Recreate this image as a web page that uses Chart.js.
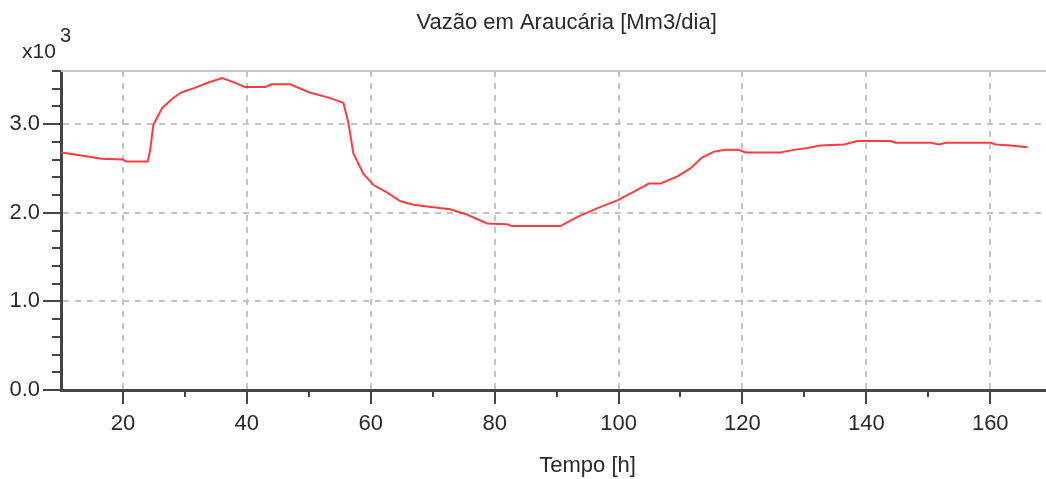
<!DOCTYPE html>
<html>
<head>
<meta charset="utf-8">
<script src="https://cdn.jsdelivr.net/npm/chart.js@4.4.2/dist/chart.umd.min.js"></script>
<style>
  html, body { margin: 0; padding: 0; background: #fff; }
  canvas { display: block; }
</style>
</head>
<body>
<canvas id="chart-vazao" width="1046" height="479"></canvas>
<script>
const chartTitle = 'Vazão em Araucária [Mm3/dia]';
const xTitle = 'Tempo [h]';
const yMultiplier = ['x10', '3'];

// tempo [h]
const tempo = [10, 12, 16.5, 20, 20.5, 24, 24.4, 24.9, 26.3, 28, 29.5, 31.6, 33.8, 36, 37.6, 39.7,
  43, 44, 47, 50, 53.2, 55.6, 56.4, 57.2, 58.8, 60.5, 62.6, 64.8, 66.9, 69.1, 72.8, 75.5,
  78.8, 82, 82.8, 90.6, 93.3, 96.5, 99.8, 102.5, 104.9, 106.8, 109.5, 111.6, 113.4, 115.4,
  117.3, 119.4, 120.5, 126.1, 128.3, 130.5, 132.6, 136.4, 138.5, 143.9, 144.7, 150.4, 151.7,
  152.8, 160.1, 160.9, 163.3, 166];

// vazão [x10^3 Mm3/dia]
const vazao = [2.68, 2.66, 2.61, 2.60, 2.58, 2.58, 2.71, 2.99, 3.18, 3.29, 3.36, 3.41, 3.47, 3.52, 3.48, 3.42,
  3.42, 3.45, 3.45, 3.36, 3.30, 3.24, 3.01, 2.67, 2.44, 2.31, 2.23, 2.13, 2.09, 2.07, 2.04, 1.98,
  1.88, 1.87, 1.85, 1.85, 1.95, 2.05, 2.14, 2.24, 2.33, 2.33, 2.41, 2.50, 2.62, 2.69,
  2.71, 2.71, 2.68, 2.68, 2.71, 2.73, 2.76, 2.77, 2.81, 2.81, 2.79, 2.79, 2.77,
  2.79, 2.79, 2.77, 2.76, 2.74];

const xMajor = [20, 40, 60, 80, 100, 120, 140, 160];
const xMinor = [30, 50, 70, 90, 110, 130, 150];
const yMajor = [0, 1, 2, 3];
const yMinor = [0.2, 0.4, 0.6, 0.8, 1.2, 1.4, 1.6, 1.8, 2.2, 2.4, 2.6, 2.8, 3.2, 3.4, 3.6];
// the original plot ran on to 180 h, past the right edge of the picture
const xFullEnd = 180;

const FONT = 'Liberation Sans, Arial, sans-serif';
const AXIS = '#454545';
const TEXT = '#2a2a2a';
const GRID = '#c4c4c4';

const extras = {
  id: 'extras',
  afterDraw(chart) {
    const ctx = chart.ctx;
    const area = chart.chartArea;
    const xs = chart.scales.x, ys = chart.scales.y;
    const fullRight = xs.getPixelForValue(xFullEnd);
    ctx.save();
    // top border
    ctx.strokeStyle = GRID;
    ctx.lineWidth = 2;
    ctx.beginPath();
    ctx.moveTo(area.left, area.top);
    ctx.lineTo(area.right, area.top);
    ctx.stroke();
    // minor ticks
    ctx.strokeStyle = AXIS;
    ctx.lineWidth = 2;
    ctx.beginPath();
    xMinor.forEach(v => {
      const px = Math.round(xs.getPixelForValue(v));
      ctx.moveTo(px, area.bottom);
      ctx.lineTo(px, area.bottom + 7);
    });
    yMinor.forEach(v => {
      const py = Math.round(ys.getPixelForValue(v));
      ctx.moveTo(area.left, py);
      ctx.lineTo(area.left - 9, py);
    });
    ctx.stroke();
    // titles, centred on the full original plot
    ctx.fillStyle = TEXT;
    ctx.textBaseline = 'middle';
    ctx.textAlign = 'center';
    ctx.font = '22px ' + FONT;
    ctx.fillText(chartTitle, (fullRight + 19) / 2, 23);
    ctx.fillText(xTitle, (area.left + fullRight) / 2, 466);
    // multiplier label
    ctx.textAlign = 'left';
    ctx.textBaseline = 'alphabetic';
    ctx.font = '21px ' + FONT;
    ctx.fillText(yMultiplier[0], 22, 58);
    ctx.font = '20px ' + FONT;
    ctx.fillText(yMultiplier[1], 60, 42);
    ctx.restore();
  }
};

new Chart(document.getElementById('chart-vazao'), {
  type: 'line',
  data: {
    datasets: [{
      data: tempo.map((t, i) => ({ x: t, y: vazao[i] })),
      borderColor: '#ff3c3c',
      borderWidth: 2,
      pointRadius: 0,
      fill: false,
      tension: 0
    }]
  },
  options: {
    responsive: false,
    animation: false,
    devicePixelRatio: 1,
    layout: { padding: { left: 0, right: 0, top: 71, bottom: 0 } },
    plugins: {
      legend: { display: false },
      tooltip: { enabled: false },
      title: { display: false }
    },
    scales: {
      x: {
        type: 'linear',
        min: 10,
        max: 169,
        afterBuildTicks: s => { s.ticks = xMajor.map(v => ({ value: v })); },
        afterFit: s => { s.height = 89; },
        ticks: {
          color: TEXT,
          font: { family: FONT, size: 22 },
          padding: 7,
          maxRotation: 0,
          autoSkip: false
        },
        grid: {
          color: GRID,
          lineWidth: 2,
          tickLength: 14,
          tickColor: AXIS,
          tickWidth: 2,
          tickBorderDash: []
        },
        border: { color: AXIS, width: 3, dash: [6, 6] }
      },
      y: {
        type: 'linear',
        min: 0,
        max: 3.6,
        afterBuildTicks: s => { s.ticks = yMajor.map(v => ({ value: v })); },
        afterFit: s => { s.width = 61; },
        ticks: {
          color: TEXT,
          font: { family: FONT, size: 22 },
          padding: 3,
          callback: v => Number(v).toFixed(1)
        },
        grid: {
          color: GRID,
          lineWidth: 2,
          tickLength: 18,
          tickColor: AXIS,
          tickWidth: 2,
          tickBorderDash: []
        },
        border: { color: AXIS, width: 3, dash: [6, 6] }
      }
    }
  },
  plugins: [extras]
});
</script>
</body>
</html>
